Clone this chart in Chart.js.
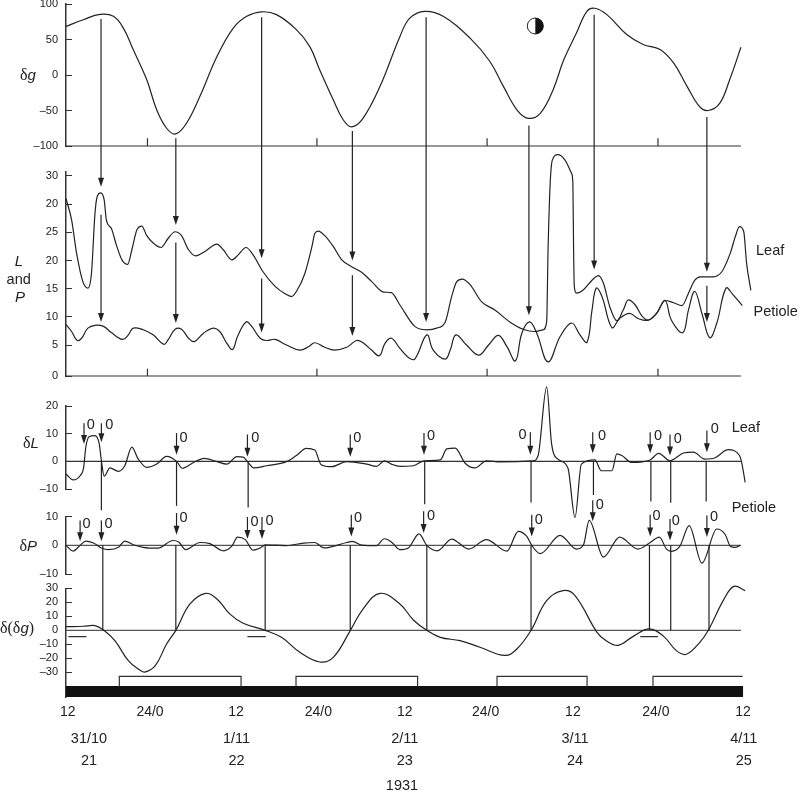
<!DOCTYPE html>
<html lang="en">
<head>
  <meta charset="UTF-8">
  <title>Gravity and leaf and petiole movement, 1931</title>
  <script src="https://cdn.jsdelivr.net/npm/chart.js"></script>
  <style>
    html, body { margin: 0; padding: 0; background: #fff; }
    canvas { display: block; }
  </style>
</head>
<body>
  <canvas id="chart" width="799" height="791"></canvas>

  <script>
    // hours after 12:00 on 31/10
    const gravityHours = [0.41,2.85,5.2,7.1,8.5,9.9,11.8,13.2,14.6,15.9,17.4,19.3,21.7,24,25.9,28,30.1,32.9,34.8,36.2,38.1,39.5,40.7,42.3,44.7,47.5,48.9,51,53.6,57.4,60.2,62.1,64,65.6,67.3,69.1,70.6,72.4,73.9,75,76.7,79.5,81.8,84.2,86.1,88,89.8,91,92.6,94,95.6];
    const gravityValues = [68.5,77.9,85.4,82.6,66,35.5,-6.8,-49,-75,-83,-68,-30,26,66,82.6,89,85,64,40,7,-35,-63,-73,-61,-16,54,80,89.6,82.6,52,19,-16,-49,-61,-54,-21,21,59,90,94,85,57,43,36,17,-16,-45,-50,-40,-7,39];

    const leafHours = [0.41,1.2,1.9,2.8,3.5,4,4.5,4.8,5.3,5.8,6.1,6.8,7.5,8.3,9.1,9.7,10.4,11.1,11.8,12.7,13.8,14.8,15.8,16.7,17.7,18.7,20,21.7,22.6,23.8,24.7,25.8,26.8,28.2,29.9,31.3,32.2,32.9,34.1,35.1,35.5,36,36.9,38.1,39.3,40.7,42.1,43.5,45.2,46.3,47.5,49.6,51.3,52.7,53.9,54.8,55.5,56.3,57.4,59,60.9,63,64.9,66.5,67.7,68.2,68.4,68.7,69,69.8,70.8,71.7,71.9,72,72.1,72.4,73.4,74.6,75.5,76.2,77.1,78.1,79,79.7,80.7,81.6,82.5,83.7,84.9,86.1,87.3,88.2,89.1,89.9,91.7,92.9,94.1,94.8,95.4,96,96.4,97];
    const leafValues = [31,27.2,21.3,16.2,15.1,17.7,28.4,31.3,32,30.7,27.2,25.7,22.8,20.1,19.3,21.9,25.4,26.1,24.4,23.1,22.3,23.9,25.1,24.4,21.9,20.8,21.6,22.9,21.9,20.1,21,22.3,21,18,15.4,14.1,13.6,14.5,17.7,22.5,24.8,25.2,24.4,22.5,20.1,18.9,17.9,16.3,14.4,14.3,12.1,8.3,7.7,8,9.1,13.6,16.2,16.7,15.7,12.7,11.2,9.1,7.8,7.4,7.7,9.1,21.9,33.7,37.8,38.8,37.8,35.5,33.7,21.9,15.4,14.2,14.8,16.5,17.3,16,11.8,9.3,11.2,13,12.1,10.2,9.4,10.6,12.9,12.5,12,14.2,16.5,17.1,17.1,18,21.3,24.2,26,25.1,19.5,14.7];

    const petioleHours = [0.41,1.2,2,2.6,3.5,4.5,5.7,6.8,8.4,9.2,9.9,11.3,12.7,14.2,14.8,15.8,16.7,17.7,18.5,19.8,21.2,22.1,23.1,23.9,24.6,25.8,26.6,27.8,28.7,29.9,31.5,33.4,34.6,35.5,36.9,38.3,40,41.4,42.3,43.5,44.6,45.4,46.3,47.5,48.7,49.6,51.3,52.2,53.9,54.6,55.4,56.9,58.6,60,61.4,62.6,63.8,64.7,65.8,66.8,68.4,70.1,71.7,72.9,73.9,74.6,75.2,76,77.4,78.5,79.9,81.1,82.5,83.7,84.9,85.8,87.4,88.2,89.1,90.1,91.2,92.2,93.5,94.5,95.8];
    const petioleValues = [8.6,7.4,5.8,6.2,8,8.5,8.3,7.2,6,6.8,8,7.7,6.8,5.1,5.9,7.8,7.8,6.2,5.6,7.1,8,7.4,5.3,4.2,6.5,9.1,8.3,6.2,5.8,6,5,4.1,4.7,5.4,4.6,4.1,4.6,5.8,5.4,4.1,3.1,5.3,6.2,4.4,2.8,2.5,6.8,4.1,2.5,4.1,6.8,5,3.2,5,6.7,4.7,2.2,7.1,9.1,7.1,2,6.5,8.9,6.8,5.5,11.2,15.1,13.6,8.1,9.7,10.6,9.7,9.4,10.6,12.9,9.4,7.2,11.2,14.5,10.6,6.3,8.9,15.1,13.9,12];

    const deltaLeafHours = [0.41,1.4,2.4,2.9,3.2,3.7,4.5,5.1,5.4,5.8,6.6,7.8,8.7,9.7,10.6,11.8,13.2,14.6,16,16.8,18.4,19.9,21.7,23.1,24.5,25.4,26.1,26.9,28.7,31.5,32.9,34.3,35.5,36.4,37.9,40,42.8,44.2,45.3,46.3,47.5,49.4,50.9,53.2,54.1,55.3,56.7,58.1,59.7,61.7,66.3,67,68.2,68.9,69.8,71.2,72.2,73.1,75,75.9,77.4,78.1,78.8,80.2,82.8,84,85.6,87.5,88.9,90.5,91.9,93.8,95.4,95.7,96.2];
    const deltaLeafValues = [-4.6,-6.7,-5.2,-2.2,5.1,9,9.3,6.3,0.2,-5.4,-2.4,-3.6,-1.6,5.1,0.8,-2.2,-1,1.8,0,-2.5,-0.4,1.1,-0.1,-1,1.7,1.5,-0.4,-2.4,-1.6,-0.1,2.1,4.7,4.1,-1.2,-1.9,-0.1,-1,-1.8,0.2,-1,-1.8,-1.6,0.2,0.5,4.5,4.8,-0.7,-2.4,0.2,-0.2,0.2,2.1,26.9,6.3,0.8,-2.4,-20.3,-1,0.5,-3.4,-3.4,2.7,2.1,-0.4,0.5,2.9,0.2,3,3.3,0.8,1.2,4.2,2.1,-0.4,-7.6];

    const deltaPetioleHours = [0.41,1.4,2.4,3.2,4.3,5.4,6.4,7.8,8.7,9.9,11.3,13.4,15.5,16.3,17.3,19.3,20.7,22.6,23.8,24.6,25.7,26.8,27.8,28.5,31.5,33.9,35.5,36.8,40,40.8,42.1,44.2,45.3,46.3,47.5,48.7,50.2,51.3,52.8,54.8,57.2,59.7,62.6,64.2,65.4,66.1,67.3,70.1,72.4,73.4,74.2,76.2,78.5,81.1,82.7,84.1,85.1,85.8,87,88.3,90.1,92.2,93.4,94.1,94.8,95.5];
    const deltaPetioleValues = [0,-2,0,1.5,0.8,-0.9,-1.5,-0.7,1.5,0.2,-0.7,-1,1.7,1.2,-1.5,1,0.6,-1.9,-0.3,2.9,2,-1.7,-0.9,0.2,-0.1,0.8,1,-0.9,1,1.4,0.1,-0.1,2.3,1.2,-1.5,-0.9,4,0,-1.9,2.2,-1.3,2,-2,4.9,3.1,0,-2.9,3.5,-1.3,0.2,8.7,-4.1,2.9,-1.3,0.8,2.9,-1.3,-2.1,-0.3,6.9,-6.2,5.7,3.7,-0.3,-0.7,0];

    const deltaGravityHours = [0.41,2.9,4.5,5.7,7.3,9.2,10.6,11.5,13,14.6,15.9,17.9,20.1,21.7,23.5,25.4,28.5,30.8,33.4,36.2,38.1,40.5,42.3,44.7,47.5,49.4,51.3,53.2,56,58.8,62.3,64,66,68.2,70.5,72.2,75.3,76.6,78.3,80.4,82.7,84.7,86.5,87.9,89.8,91,93.1,94.6,96.2];
    const deltaGravityValues = [2.6,2.9,3.3,0.2,-7.4,-21.7,-27.6,-29.8,-25.2,-9.8,0,18.8,26.4,22.4,11.7,5,0,-5,-15.7,-22.6,-19.3,-0.2,15.2,26.4,18.8,7.4,0,-5,-7.4,-12.1,-17.9,-13.3,0,21.2,28.3,24.8,-1.4,-7.4,-10.7,-4.3,1,-4.3,-14.5,-17.1,-8.6,0,21.2,31.4,28.3];

    // tick values and their printed labels (the L axis really prints 30, 20, 25 ...)
    const gravityTicks = [100, 50, 0, -50, -100];
    const gravityLabels = ['100', '50', '0', '–50', '–100'];
    const lpTicks = [35, 30, 25, 20, 15, 10, 5, -0.5];
    const lpLabels = ['30', '20', '25', '20', '15', '10', '5', '0'];
    const deltaLeafTicks = [20, 10, 0, -10];
    const deltaLeafLabels = ['20', '10', '0', '–10'];
    const deltaPetioleTicks = [10, 0, -10];
    const deltaPetioleLabels = ['10', '0', '–10'];
    const deltaGravityTicks = [30, 20, 10, 0, -10, -20, -30];
    const deltaGravityLabels = ['30', '20', '10', '0', '–10', '–20', '–30'];

    const hourTicks = [0.65, 12.26, 24.4, 36, 48.2, 59.6, 71.9, 83.6, 95.9];
    const hourLabels = ['12', '24/0', '12', '24/0', '12', '24/0', '12', '24/0', '12'];
    const midnightMarks = [11.9, 35.8, 59.8, 83.9];

    const dateHours = [3.65, 24.45, 48.2, 72.2, 96];
    const dateLabels = ['31/10', '1/11', '2/11', '3/11', '4/11'];
    const lunarDays = ['21', '22', '23', '24', '25'];

    // long arrows from the gravity curve to the leaf curve
    const extremaHours = [5.35, 15.9, 28, 40.8, 51.2, 65.7, 74.9, 90.8];
    const extremaFrom = [79, -89, 81.5, -79, 81.5, -71, 84.8, -59];
    const extremaTo = [33.1, 26.3, 20.4, 20, 9.1, 10.3, 18.4, 18];

    // arrows from the leaf curve to the petiole curve
    const petioleArrowHours = [5.35, 15.9, 28, 40.8, 90.8];
    const petioleArrowFrom = [28.1, 23.2, 16.8, 17.4, 15.5];
    const petioleArrowTo = [9.1, 8.9, 7.2, 6.6, 9.1];

    // small arrows marking the zeros of dL
    const leafZeroHours = [2.95, 5.4, 16, 26, 40.5, 50.9, 65.9, 74.7, 82.8, 85.6, 90.8];
    const leafZeroFrom = [13.8, 13.8, 10.2, 9.7, 9.7, 10.2, 10.5, 10.5, 10.5, 9.7, 11.1];
    const leafZeroTo = [6.3, 6.9, 2.4, 1.7, 1.7, 2.4, 2.4, 2.9, 2.9, 2.1, 3.3];
    const leafZeroTextHours = [3.9, 6.5, 17, 27.1, 41.5, 51.9, 64.8, 76, 83.9, 86.7, 91.9];
    const leafZeroTextValues = [13.2, 13.2, 8.5, 8.5, 8.5, 9.3, 9.6, 9.3, 9, 8.1, 11.7];

    // stems from dL down towards dP
    const leafStemHours = [5.4, 16, 26.1, 51, 66, 74.8, 82.9, 85.7, 90.7];
    const leafStemTo = [-17.7, -16.1, -16.7, -15.5, -14.9, -12.2, -14.5, -15, -14.5];

    // small arrows marking the zeros of dP
    const petioleZeroHours = [2.4, 5.4, 16, 26, 28.05, 40.65, 50.85, 66.1, 74.7, 82.8, 85.6, 90.8];
    const petioleZeroFrom = [8.7, 8.7, 11.3, 9.9, 9.9, 10.7, 11.9, 10.7, 15.7, 10.7, 9.2, 10.4];
    const petioleZeroTo = [1.4, 1.4, 3.7, 2.2, 2.2, 3.1, 4.3, 3.1, 8.4, 3.1, 1.7, 2.9];
    const petioleZeroTextHours = [3.3, 6.4, 17, 27, 29.1, 41.6, 51.9, 67.1, 75.7, 83.7, 86.4, 91.8];
    const petioleZeroTextValues = [7.6, 7.6, 9.5, 8, 8.4, 9.5, 10.1, 9, 14, 10.1, 8.6, 9.8];

    // stems from dP zero line to d(dg) zero line
    const petioleStemHours = [5.6, 15.9, 28.5, 40.5, 51.3, 66, 82.7, 85.7, 91.1];

    // short dashes under the d(dg) zero line
    const dashStarts = [0.74, 26, 81.4];
    const dashEnds = [3.3, 28.6, 83.9];

    // light periods, the last one is still open at the right edge
    const lightStarts = [7.93, 32.85, 61.2, 83.2];
    const lightEnds = [25.1, 50, 73.9, 95.85];

    const INK = '#222';
    const SANS = '"Liberation Sans", Arial, sans-serif';
    const SERIF = '"Liberation Serif", serif';

    function curve(hours, values, axis, smooth) {
      const set = {
        data: hours.map((x, i) => ({ x: x, y: values[i] })),
        yAxisID: axis,
        borderColor: INK,
        borderWidth: 1.2,
        pointRadius: 0,
        clip: false
      };
      if (smooth) set.tension = 0.4;
      else set.cubicInterpolationMode = 'monotone';
      return set;
    }

    function rule(points, axis, width, color) {
      return {
        data: points,
        yAxisID: axis,
        borderColor: color || '#333',
        borderWidth: width || 1.2,
        borderCapStyle: 'butt',
        pointRadius: 0,
        tension: 0,
        clip: false
      };
    }

    function hLine(y) {
      return [{ x: 0.41, y: y }, { x: 95.6, y: y }];
    }

    function marks(y0, y1) {
      const pts = [];
      midnightMarks.forEach(h => pts.push({ x: h, y: y0 }, { x: h, y: y1 }, { x: h, y: null }));
      return pts;
    }

    function lightBoxes() {
      const pts = [];
      lightStarts.forEach((h, i) => {
        pts.push({ x: h, y: -40.2 }, { x: h, y: -32.9 }, { x: lightEnds[i], y: -32.9 });
        if (i < lightStarts.length - 1) pts.push({ x: lightEnds[i], y: -40.2 }, { x: lightEnds[i], y: null });
      });
      return pts;
    }

    function dashes() {
      const pts = [];
      dashStarts.forEach((h, i) => pts.push({ x: h, y: -4.5 }, { x: dashEnds[i], y: -4.5 }, { x: dashEnds[i], y: null }));
      return pts;
    }

    function noMargins(s) {
      s.width = 66;
      s.paddingTop = 0;
      s.paddingBottom = 0;
    }

    function yScale(order, size, min, max, ticks, labels) {
      return {
        type: 'linear',
        position: 'left',
        stack: 'panels',
        stackWeight: size,
        weight: order,
        min: min,
        max: max,
        afterFit: noMargins,
        afterBuildTicks: s => { s.ticks = ticks.map(v => ({ value: v })); },
        border: { color: '#333', width: 1.5 },
        grid: { drawOnChartArea: false, color: '#333', lineWidth: 1, tickLength: -6 },
        ticks: {
          autoSkip: false,
          padding: 14,
          color: INK,
          font: { family: SANS, size: 11 },
          callback: (v, i) => labels[i]
        }
      };
    }

    function spacer(order, size) {
      return {
        type: 'linear',
        position: 'left',
        stack: 'panels',
        stackWeight: size,
        weight: order,
        min: 0,
        max: 1,
        afterFit: noMargins,
        border: { display: false },
        grid: { display: false },
        ticks: { display: false }
      };
    }

    function arrow(chart, h, fromAxis, from, toAxis, to, head) {
      const ctx = chart.ctx;
      const x = chart.scales.x.getPixelForValue(h);
      const y0 = chart.scales[fromAxis].getPixelForValue(from);
      const y1 = chart.scales[toAxis].getPixelForValue(to);
      ctx.strokeStyle = INK;
      ctx.lineWidth = 1.2;
      ctx.beginPath();
      ctx.moveTo(x, y0);
      ctx.lineTo(x, head ? y1 - 5 : y1);
      ctx.stroke();
      if (head) {
        ctx.fillStyle = INK;
        ctx.beginPath();
        ctx.moveTo(x, y1);
        ctx.lineTo(x - 3, y1 - 9);
        ctx.lineTo(x + 3, y1 - 9);
        ctx.closePath();
        ctx.fill();
      }
    }

    // label made of parts with different fonts, left at x and centred on y
    function mixed(ctx, parts, x, y) {
      ctx.textAlign = 'left';
      ctx.textBaseline = 'middle';
      parts.forEach(p => {
        ctx.font = p[1];
        ctx.fillText(p[0], x, y);
        x += ctx.measureText(p[0]).width;
      });
    }

    const overlay = {
      id: 'overlay',
      afterDatasetsDraw(chart) {
        const ctx = chart.ctx;
        const sx = chart.scales.x;
        ctx.save();

        extremaHours.forEach((h, i) => arrow(chart, h, 'yG', extremaFrom[i], 'yL', extremaTo[i], true));
        petioleArrowHours.forEach((h, i) => arrow(chart, h, 'yL', petioleArrowFrom[i], 'yL', petioleArrowTo[i], true));
        leafZeroHours.forEach((h, i) => arrow(chart, h, 'yDL', leafZeroFrom[i], 'yDL', leafZeroTo[i], true));
        leafStemHours.forEach((h, i) => arrow(chart, h, 'yDL', 0, 'yDL', leafStemTo[i], false));
        petioleZeroHours.forEach((h, i) => arrow(chart, h, 'yDP', petioleZeroFrom[i], 'yDP', petioleZeroTo[i], true));
        petioleStemHours.forEach(h => arrow(chart, h, 'yDP', 0, 'yDG', 0, false));

        // half moon
        const mx = sx.getPixelForValue(66.6);
        const my = chart.scales.yG.getPixelForValue(69);
        ctx.fillStyle = '#fff';
        ctx.strokeStyle = INK;
        ctx.lineWidth = 1;
        ctx.beginPath();
        ctx.arc(mx, my, 8, 0, Math.PI * 2);
        ctx.fill();
        ctx.stroke();
        ctx.fillStyle = '#111';
        ctx.beginPath();
        ctx.arc(mx, my, 8, -Math.PI / 2, Math.PI / 2);
        ctx.closePath();
        ctx.fill();

        // zeros next to the small arrows
        ctx.fillStyle = INK;
        ctx.font = '14.5px ' + SANS;
        ctx.textAlign = 'center';
        ctx.textBaseline = 'middle';
        leafZeroTextHours.forEach((h, i) => {
          ctx.fillText('0', sx.getPixelForValue(h), chart.scales.yDL.getPixelForValue(leafZeroTextValues[i]));
        });
        petioleZeroTextHours.forEach((h, i) => {
          ctx.fillText('0', sx.getPixelForValue(h), chart.scales.yDP.getPixelForValue(petioleZeroTextValues[i]));
        });

        // dates and lunar days below the hour labels
        dateHours.forEach((h, i) => {
          const x = sx.getPixelForValue(h);
          ctx.fillText(dateLabels[i], x, 739);
          ctx.fillText(lunarDays[i], x, 761);
        });
        ctx.fillText('1931', 402, 786);

        ctx.fillText('and', 18.7, 280);

        // curve names
        ctx.textAlign = 'left';
        ctx.fillText('Leaf', 756, 251);
        ctx.fillText('Petiole', 753.5, 312);
        ctx.fillText('Leaf', 731.7, 427.7);
        ctx.fillText('Petiole', 731.7, 508);

        // axis names
        const ital = 'italic 15px ' + SANS;
        const delta = '16px ' + SERIF;
        ctx.textAlign = 'center';
        ctx.font = ital;
        ctx.fillText('L', 19, 261.5);
        ctx.fillText('P', 20, 298);
        mixed(ctx, [['δ', delta], ['g', ital]], 20, 76);
        mixed(ctx, [['δ', delta], ['L', ital]], 23, 444);
        mixed(ctx, [['δ', delta], ['P', ital]], 19.5, 546.7);
        mixed(ctx, [['δ(δ', delta], ['g', ital], [')', delta]], 0, 628.5);

        ctx.restore();
      }
    };

    new Chart(document.getElementById('chart'), {
      type: 'line',
      plugins: [overlay],
      data: {
        datasets: [
          curve(gravityHours, gravityValues, 'yG', true),
          curve(leafHours, leafValues, 'yL'),
          curve(petioleHours, petioleValues, 'yL', true),
          curve(deltaLeafHours, deltaLeafValues, 'yDL'),
          curve(deltaPetioleHours, deltaPetioleValues, 'yDP'),
          curve(deltaGravityHours, deltaGravityValues, 'yDG', true),
          rule(hLine(-100), 'yG'),
          rule(hLine(-0.5), 'yL'),
          rule(hLine(0), 'yDL'),
          rule(hLine(0), 'yDP', 1.2, '#555'),
          rule(hLine(0), 'yDG', 1.2, '#555'),
          rule(marks(-100, -89), 'yG'),
          rule(marks(-0.5, 0.8), 'yL'),
          rule(dashes(), 'yDG'),
          rule(lightBoxes(), 'yDG'),
          rule([{ x: 0.41, y: -43.7 }, { x: 95.9, y: -43.7 }], 'yDG', 11, '#111')
        ]
      },
      options: {
        responsive: false,
        animation: false,
        layout: { padding: { top: 4, right: 40, bottom: 0, left: 0 } },
        plugins: { legend: { display: false }, tooltip: { enabled: false } },
        scales: {
          x: {
            type: 'linear',
            position: 'bottom',
            min: 0.41,
            max: 98.15,
            afterFit: s => { s.height = 94; },
            afterBuildTicks: s => { s.ticks = hourTicks.map(v => ({ value: v })); },
            border: { display: false },
            grid: { display: false, drawTicks: false },
            ticks: {
              autoSkip: false,
              maxRotation: 0,
              padding: 7,
              color: INK,
              font: { family: SANS, size: 14 },
              callback: (v, i) => hourLabels[i]
            }
          },
          yG: yScale(9, 142, -100, 100, gravityTicks, gravityLabels),
          gap1: spacer(8, 26),
          yL: yScale(7, 204, -0.5, 35.7, lpTicks, lpLabels),
          gap2: spacer(6, 30),
          yDL: yScale(5, 83, -10, 20, deltaLeafTicks, deltaLeafLabels),
          gap3: spacer(4, 27.7),
          yDP: yScale(3, 57.3, -10, 10, deltaPetioleTicks, deltaPetioleLabels),
          gap4: spacer(2, 14.3),
          yDG: yScale(1, 108.7, -47.6, 30, deltaGravityTicks, deltaGravityLabels)
        }
      }
    });
  </script>
</body>
</html>
